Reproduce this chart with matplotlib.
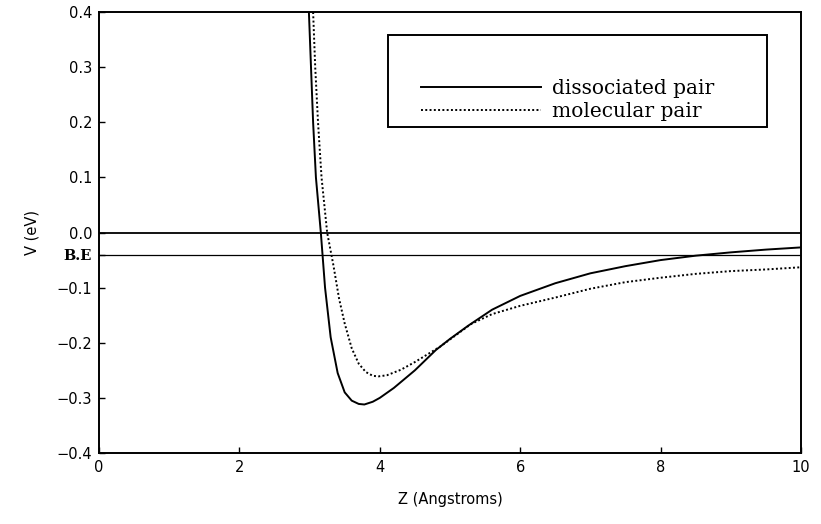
import matplotlib
matplotlib.use("Agg")
import matplotlib.pyplot as plt
from matplotlib.patches import Rectangle

# Data
z_diss = [2.99, 3.02, 3.05, 3.09, 3.16, 3.22, 3.30, 3.40, 3.50, 3.60, 3.70, 3.78,
          3.90, 4.00, 4.20, 4.50, 4.80, 5.00, 5.26, 5.60, 6.00, 6.50, 7.00, 7.50,
          8.00, 8.50, 9.00, 9.50, 10.0]
v_diss = [0.40, 0.30, 0.20, 0.10, 0.00, -0.10, -0.19, -0.255, -0.29, -0.305, -0.311, -0.312,
          -0.307, -0.300, -0.282, -0.250, -0.213, -0.193, -0.169, -0.140, -0.115, -0.092,
          -0.074, -0.061, -0.050, -0.042, -0.036, -0.031, -0.027]

z_mol = [3.05, 3.08, 3.12, 3.17, 3.25, 3.34, 3.42, 3.50, 3.60, 3.70, 3.80, 3.90,
         3.98, 4.10, 4.30, 4.50, 4.86, 5.00, 5.30, 5.60, 6.00, 6.50, 7.00, 7.50,
         8.00, 8.50, 9.00, 9.50, 10.0]
v_mol = [0.40, 0.30, 0.20, 0.10, 0.00, -0.06, -0.12, -0.165, -0.21, -0.238, -0.253, -0.260,
         -0.261, -0.259, -0.249, -0.235, -0.207, -0.194, -0.166, -0.148, -0.133, -0.118,
         -0.102, -0.090, -0.082, -0.075, -0.070, -0.067, -0.063]

binding_energy = -0.04
y_ticks = [0.4, 0.3, 0.2, 0.1, 0.0, -0.1, -0.2, -0.3, -0.4]
x_ticks = [0, 2, 4, 6, 8, 10]

fig = plt.figure(figsize=(8.21, 5.24), dpi=100)
ax = fig.add_axes([0.1206, 0.1355, 0.855, 0.8415])

ax.plot(z_diss, v_diss, color="black", lw=1.4, label="dissociated pair")
ax.plot(z_mol, v_mol, color="black", lw=1.4, linestyle=(0, (1, 1.2)), label="molecular pair")
ax.axhline(0.0, color="black", lw=1.3)
ax.axhline(binding_energy, color="black", lw=0.9)

ax.set_xlim(0, 10)
ax.set_ylim(-0.4, 0.4)

ax.set_xticks(x_ticks)
ax.set_xticklabels([str(t) for t in x_ticks])
yt = y_ticks + [binding_energy]
ax.set_yticks(yt)
ax.set_yticklabels([f"{t:.1f}".replace("-", "\u2212") for t in y_ticks] + ["B.E"])
for lab in ax.get_yticklabels():
    if lab.get_text() == "B.E":
        lab.set_family("DejaVu Serif")
        lab.set_fontweight("bold")
        lab.set_fontsize(9)
ax.tick_params(direction="in", length=4, width=1, labelsize=10.5, pad=5)
for s in ax.spines.values():
    s.set_linewidth(1.4)

ax.set_xlabel("Z (Angstroms)", fontsize=10.5, labelpad=12)
ax.set_ylabel("V (eV)", fontsize=10.5, labelpad=12)

# legend frame
ax.add_patch(Rectangle((0.412, 0.739), 0.54, 0.209, transform=ax.transAxes,
                       fill=True, facecolor="white", edgecolor="black", lw=1.4, zorder=4))
leg = ax.legend(loc="upper left", bbox_to_anchor=(0.458, 0.848),
                frameon=False, prop={"family": "DejaVu Serif", "size": 14.5},
                handlelength=6.0, borderaxespad=0, borderpad=0,
                labelspacing=0.2, handletextpad=0.55)
leg.set_zorder(5)

fig.savefig("out.png", dpi=100)
